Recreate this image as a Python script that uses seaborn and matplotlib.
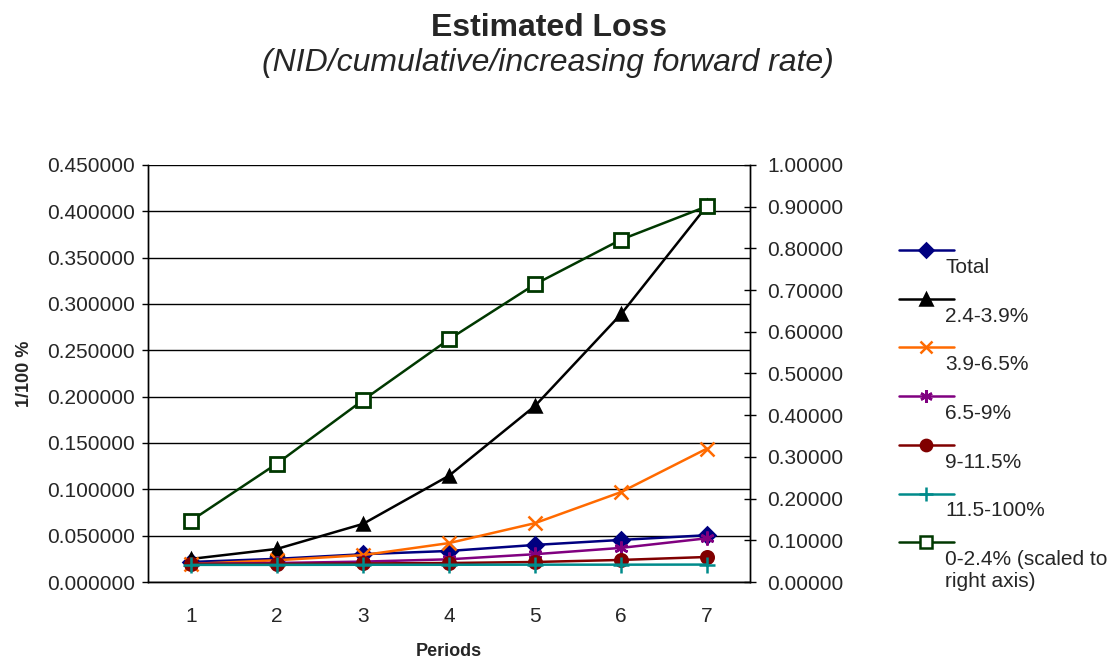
import numpy as np
import pandas as pd
import matplotlib
matplotlib.use("Agg")
import matplotlib.pyplot as plt
import seaborn as sns
from matplotlib.lines import Line2D
from matplotlib.ticker import FormatStrFormatter, MultipleLocator

periods = [1, 2, 3, 4, 5, 6, 7]

# left axis series (1/100 %)
total = [0.0216, 0.0250, 0.0300, 0.0335, 0.0400, 0.0454, 0.0505]
b24_39 = [0.0249, 0.0357, 0.0627, 0.1147, 0.1900, 0.2890, 0.4060]
b39_65 = [0.0195, 0.0235, 0.0290, 0.0420, 0.0635, 0.0970, 0.1440]
b65_9 = [0.0195, 0.0205, 0.0220, 0.0245, 0.0300, 0.0368, 0.0472]
b9_115 = [0.0195, 0.0195, 0.0200, 0.0205, 0.0216, 0.0238, 0.0270]
b115_100 = [0.0185, 0.0185, 0.0186, 0.0186, 0.0187, 0.0187, 0.0188]

# right axis series
b0_24 = [0.147, 0.284, 0.436, 0.582, 0.714, 0.821, 0.901]

left_series = [
    ("Total", total, "#000080", "D", 8, "#000080"),
    ("2.4-3.9%", b24_39, "black", "^", 9, "black"),
    ("3.9-6.5%", b39_65, "#FF6A00", "x", 10, "#FF6A00"),
    ("6.5-9%", b65_9, "#800080", (6, 2, 0), 10, "#800080"),
    ("9-11.5%", b9_115, "#800000", "o", 9, "#800000"),
    ("11.5-100%", b115_100, "#008B8B", "+", 11, "#008B8B"),
]
right_label = "0-2.4% (scaled to\nright axis)"
green = "#003800"

sns.set_style("white")
plt.rcParams["font.family"] = ["Liberation Sans", "DejaVu Sans"]

fig = plt.figure(figsize=(11.2, 6.64), dpi=100)
ax = fig.add_axes([148 / 1120, 1 - 582 / 664, (750 - 148) / 1120, (582 - 165) / 664])
ax2 = ax.twinx()

for name, vals, col, mk, ms, fc in left_series:
    sns.lineplot(x=periods, y=vals, ax=ax, color=col, marker=mk, markersize=ms,
                 markerfacecolor=fc, markeredgecolor=col, markeredgewidth=1.8,
                 linewidth=1.8, legend=False)

sns.lineplot(x=periods, y=b0_24, ax=ax2, color=green, marker="s", markersize=10,
             markerfacecolor="white", markeredgecolor=green, markeredgewidth=2,
             linewidth=1.8, legend=False)

ax.set_xlim(0.5, 7.5)
ax.set_ylim(0, 0.45)
ax2.set_ylim(0, 1.0)
ax.yaxis.set_major_locator(MultipleLocator(0.05))
ax2.yaxis.set_major_locator(MultipleLocator(0.1))
ax.yaxis.set_major_formatter(FormatStrFormatter("%.6f"))
ax2.yaxis.set_major_formatter(FormatStrFormatter("%.5f"))

ax.set_xticks(periods)
ax.set_xticks(np.arange(1.5, 7.5, 1), minor=True)
ax.tick_params(axis="x", which="major", length=0, labelsize=15, pad=18)
ax.tick_params(axis="x", which="minor", length=4.5, width=1, direction="out", color="black")
ax.tick_params(axis="y", length=4.5, width=1, direction="out", labelsize=15, pad=5, color="black")
ax2.tick_params(axis="y", length=9, width=1, direction="inout", labelsize=15, pad=8, color="black")

ax.grid(axis="y", color="black", linewidth=1)
ax.set_axisbelow(True)
for a in (ax, ax2):
    a.spines["top"].set_visible(False)
    for s in ("left", "right", "bottom"):
        a.spines[s].set_color("black")
        a.spines[s].set_linewidth(1)

ax.set_xlabel("Periods", fontsize=13, fontweight="bold", labelpad=12)
ax.set_ylabel("1/100 %", fontsize=13, fontweight="bold", labelpad=10)
ax2.set_ylabel("")

fig.text(549 / 1120, 1 - 36 / 664, "Estimated Loss", ha="center", va="baseline",
         fontsize=23, fontweight="bold")
fig.text(548 / 1120, 1 - 71 / 664, "(NID/cumulative/increasing forward rate)",
         ha="center", va="baseline", fontsize=23, style="italic")

# Excel-style legend: handle line on top, label below
entries = [(n, c, m, ms, fc) for n, _, c, m, ms, fc in left_series]
entries.append((right_label, green, "s", 10, "white"))
for i, (name, col, mk, ms, fc) in enumerate(entries):
    yh = 1 - (250 + i * 48.7) / 664
    fig.add_artist(Line2D([899 / 1120, 954 / 1120], [yh, yh], color=col, linewidth=1.8,
                          transform=fig.transFigure))
    fig.add_artist(Line2D([926 / 1120], [yh], marker=mk, markersize=ms * 0.9, color=col,
                          markerfacecolor=fc, markeredgecolor=col, markeredgewidth=1.8,
                          transform=fig.transFigure))
    fig.text(945 / 1120, yh - 8 / 664, name, ha="left", va="top", fontsize=15,
             linespacing=1.2)

fig.savefig("out.png", dpi=100)
